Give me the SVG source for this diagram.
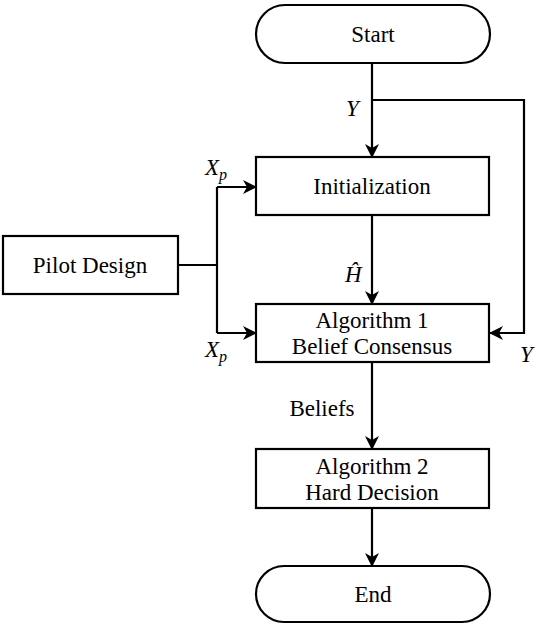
<svg xmlns="http://www.w3.org/2000/svg" width="540" height="627" viewBox="0 0 540 627">
<style>
.box{fill:#fff;stroke:#000;stroke-width:2.2}
.c{fill:none;stroke:#000;stroke-width:2.2}
.t{font-family:'Liberation Serif',serif;font-size:23px;fill:#000;text-anchor:middle}
.m{font-family:'Liberation Serif',serif;font-size:23px;font-style:italic;fill:#000}
.s{font-size:16px}
</style>
<defs>
<marker id="ah" viewBox="0 0 14 14" refX="13" refY="7" markerWidth="14" markerHeight="14" markerUnits="userSpaceOnUse" orient="auto">
<path d="M0,0 L14,7 L0,14 L4,7 Z" fill="#000"/>
</marker>
</defs>
<g id="connectors">
<path class="c" d="M372,63 V157" marker-end="url(#ah)"/>
<path class="c" d="M372,100 H524 V333 H490" marker-end="url(#ah)"/>
<path class="c" d="M372,215 V304" marker-end="url(#ah)"/>
<path class="c" d="M178,265 H217"/>
<path class="c" d="M217,187 V333"/>
<path class="c" d="M217,187 H256" marker-end="url(#ah)"/>
<path class="c" d="M217,333 H256" marker-end="url(#ah)"/>
<path class="c" d="M372,362 V449" marker-end="url(#ah)"/>
<path class="c" d="M372,508 V566" marker-end="url(#ah)"/>
<text class="m" x="346" y="116">Y</text>
<text class="m" x="205" y="175">X<tspan class="s" dy="5">p</tspan></text>
<text class="m" x="205" y="357">X<tspan class="s" dy="5">p</tspan></text>
<text class="m" x="345" y="282">Ĥ</text>
<text class="m" x="520" y="362">Y</text>
<text class="t" x="322" y="416">Beliefs</text>
</g>
<g id="start">
<rect class="box" x="256" y="5" width="234" height="58" rx="29" ry="29"/>
<text class="t" x="373" y="42">Start</text>
</g>
<g id="init">
<rect class="box" x="256" y="157" width="233" height="58"/>
<text class="t" x="372" y="194">Initialization</text>
</g>
<g id="pilot">
<rect class="box" x="3" y="236" width="175" height="58"/>
<text class="t" x="90" y="273">Pilot Design</text>
</g>
<g id="alg1">
<rect class="box" x="256" y="304" width="233" height="58"/>
<text class="t" x="372" y="328">Algorithm 1</text>
<text class="t" x="372" y="354">Belief Consensus</text>
</g>
<g id="alg2">
<rect class="box" x="256" y="449" width="233" height="59"/>
<text class="t" x="372" y="474">Algorithm 2</text>
<text class="t" x="372" y="500">Hard Decision</text>
</g>
<g id="end">
<rect class="box" x="256" y="566" width="234" height="56" rx="28" ry="28"/>
<text class="t" x="373" y="602">End</text>
</g>
</svg>
